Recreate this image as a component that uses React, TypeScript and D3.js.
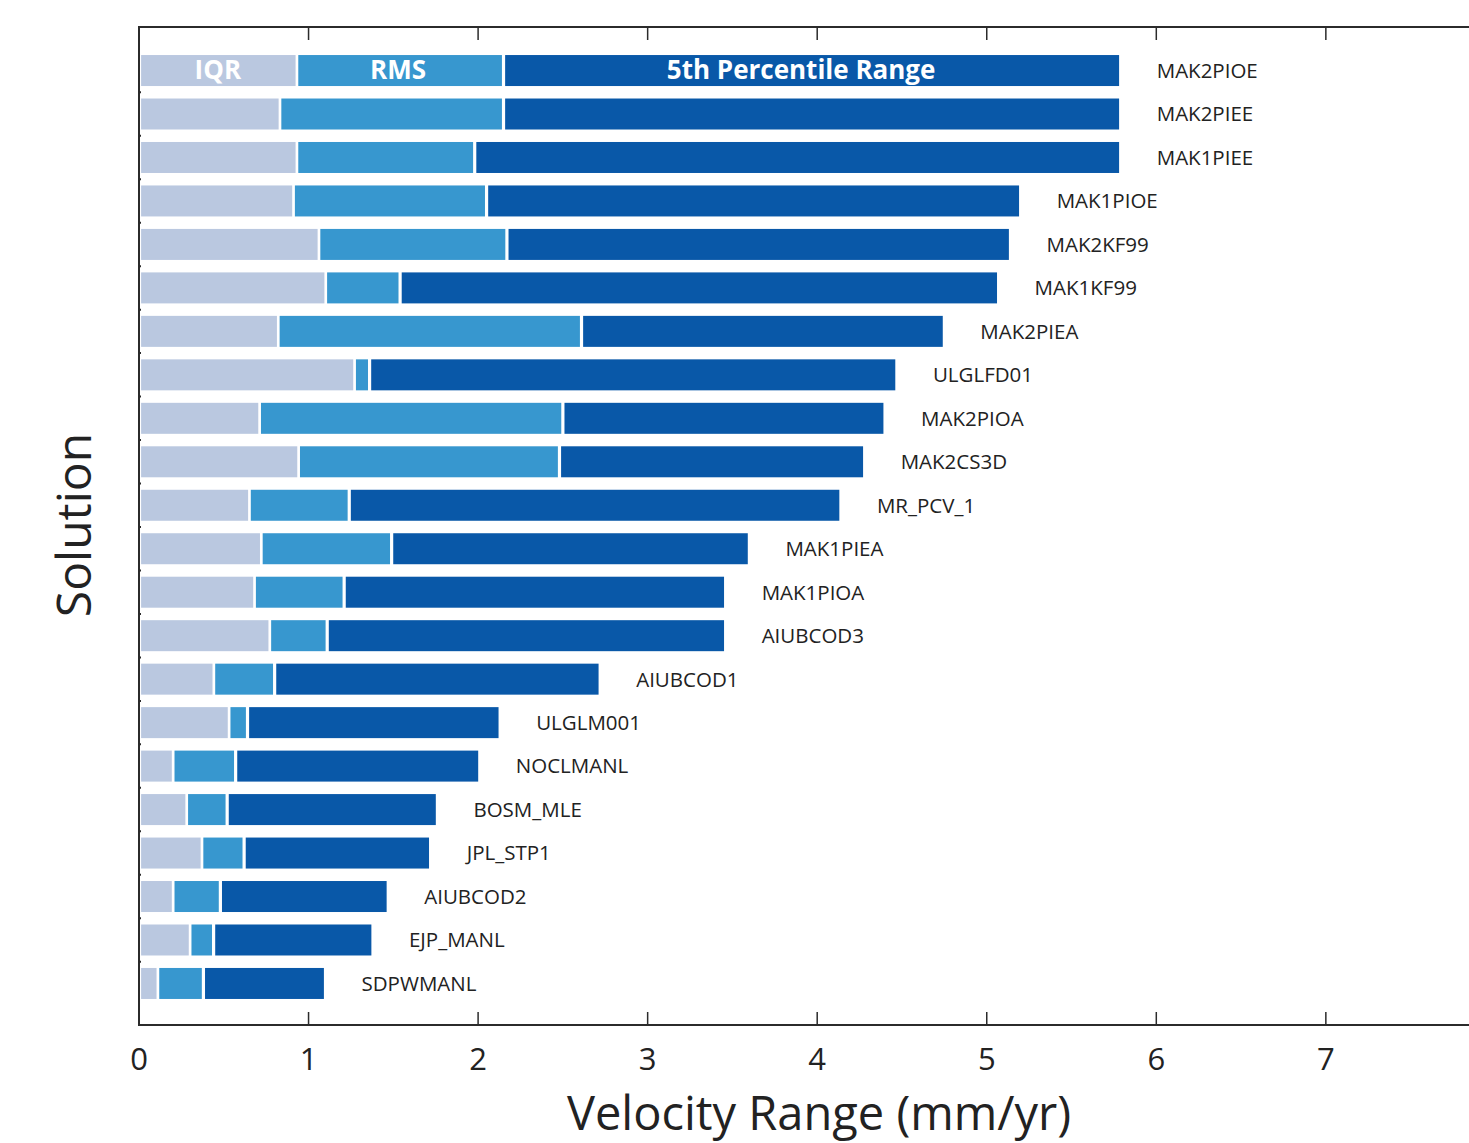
import React from "react";
import * as d3 from "d3";

const solutions = [
  "MAK2PIOE", "MAK2PIEE", "MAK1PIEE", "MAK1PIOE", "MAK2KF99", "MAK1KF99",
  "MAK2PIEA", "ULGLFD01", "MAK2PIOA", "MAK2CS3D", "MR_PCV_1", "MAK1PIEA",
  "MAK1PIOA", "AIUBCOD3", "AIUBCOD1", "ULGLM001", "NOCLMANL", "BOSM_MLE",
  "JPL_STP1", "AIUBCOD2", "EJP_MANL", "SDPWMANL",
];
const iqr = [0.93, 0.83, 0.93, 0.91, 1.06, 1.1, 0.82, 1.27, 0.71, 0.94, 0.65, 0.72, 0.68, 0.77, 0.44, 0.53, 0.2, 0.28, 0.37, 0.2, 0.3, 0.11];
const rms = [2.15, 2.15, 1.98, 2.05, 2.17, 1.54, 2.61, 1.36, 2.5, 2.48, 1.24, 1.49, 1.21, 1.11, 0.8, 0.64, 0.57, 0.52, 0.62, 0.48, 0.44, 0.38];
const p5range = [5.79, 5.79, 5.79, 5.2, 5.14, 5.07, 4.75, 4.47, 4.4, 4.28, 4.14, 3.6, 3.46, 3.46, 2.72, 2.13, 2.01, 1.76, 1.72, 1.47, 1.38, 1.1];
const xTicks = [0, 1, 2, 3, 4, 5, 6, 7];
const seriesNames = ["IQR", "RMS", "5th Percentile Range"];
const colors = ["#BAC8E0", "#3797CF", "#0958A8"];

const W = 1469;
const H = 1143;
const left = 139;
const top = 27;
const bottom = 1025;
const right = 1469;

export default function App() {
  const x = d3.scaleLinear().domain([0, 7]).range([left, left + 7 * 169.55]);
  const y = d3
    .scaleBand<string>()
    .domain(solutions)
    .range([48.8, 1005.2])
    .paddingInner(0.287)
    .paddingOuter(0.1435);
  const step = y.step();
  const bh = y.bandwidth();
  const font = "'Open Sans', 'Noto Sans', sans-serif";
  const axisColor = "#2b2b2b";
  const gap = 1.6;
  const legendShift = [0, -2, -11];

  const rows = solutions.map((s, i) => {
    const segs = [
      [0, iqr[i]],
      [iqr[i], rms[i]],
      [rms[i], p5range[i]],
    ];
    return { s, i, segs };
  });

  const boundaries = d3.range(solutions.length + 1).map((k) => 48.8 + k * step);

  return (
    <svg
      width={W}
      height={H}
      style={{ position: "absolute", left: 0, top: 0, background: "#fff" }}
      fontFamily={font}
    >
      <rect x={0} y={0} width={W} height={H} fill="#fff" />
      {rows.map(({ s, i, segs }) => {
        const yy = y(s)!;
        return (
          <g key={s}>
            {segs.map(([a, b], k) => (
              <rect
                key={k}
                x={x(a) + gap + (k === 0 ? 0.5 : 0)}
                y={yy}
                width={Math.max(0, x(b) - x(a) - 2 * gap)}
                height={bh}
                fill={colors[k]}
              />
            ))}
            <text
              x={x(p5range[i]) + 36}
              y={yy + bh / 2}
              dy="0.36em"
              fontSize={20.5}
              fill="#222"
            >
              {s}
            </text>
            {i === 0 &&
              segs.map(([a, b], k) => (
                <text
                  key={"l" + k}
                  x={(x(a) + x(b)) / 2 + legendShift[k]}
                  y={yy + bh / 2}
                  dy="0.34em"
                  textAnchor="middle"
                  fontSize={26}
                  fontWeight="bold"
                  fill="#fff"
                >
                  {seriesNames[k]}
                </text>
              ))}
          </g>
        );
      })}
      {/* axes */}
      <line x1={left} x2={right} y1={top} y2={top} stroke={axisColor} strokeWidth={2} />
      <line x1={left} x2={right} y1={bottom} y2={bottom} stroke={axisColor} strokeWidth={2} />
      <line x1={left} x2={left} y1={top - 1} y2={bottom + 1} stroke={axisColor} strokeWidth={2} />
      {boundaries.slice(1, -1).map((b, k) => (
        <line key={"yt" + k} x1={left} x2={left + 2} y1={b} y2={b} stroke={axisColor} strokeWidth={2} />
      ))}
      {xTicks.map((t) => (
        <g key={t}>
          {t > 0 && (
            <>
              <line x1={x(t)} x2={x(t)} y1={top} y2={top + 13} stroke={axisColor} strokeWidth={1.5} />
              <line x1={x(t)} x2={x(t)} y1={bottom} y2={bottom - 13} stroke={axisColor} strokeWidth={1.5} />
            </>
          )}
          <text x={x(t)} y={1070} textAnchor="middle" fontSize={31} fill="#222">
            {t}
          </text>
        </g>
      ))}
      <text x={819} y={1130} textAnchor="middle" fontSize={47} fill="#222">
        Velocity Range (mm/yr)
      </text>
      <text
        transform={`translate(91, 525) rotate(-90)`}
        textAnchor="middle"
        fontSize={48}
        fill="#222"
      >
        Solution
      </text>
    </svg>
  );
}
